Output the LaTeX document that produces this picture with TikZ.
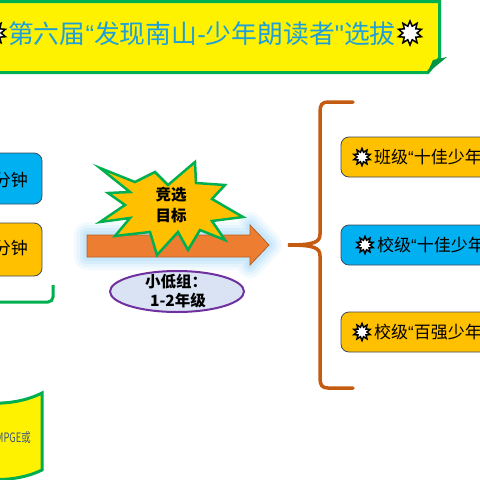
\documentclass[tikz,border=0pt]{standalone}
\usepackage{fontspec}
\usepackage{graphicx}
\setmainfont{Noto Sans CJK SC}
\newfontfamily\latinq{Liberation Sans}
\usetikzlibrary{shapes.geometric}
\definecolor{bgreen}{HTML}{00B050}
\definecolor{titleblue}{HTML}{1E9FD8}
\definecolor{boxgold}{HTML}{FFC000}
\definecolor{boxblue}{HTML}{00B0F0}
\definecolor{boxedge}{HTML}{3F4A5A}
\definecolor{arroworange}{HTML}{ED7D31}
\definecolor{bracebrown}{HTML}{C55A11}
\definecolor{ellfill}{HTML}{DAE3F3}
\definecolor{ellpurple}{HTML}{7030A0}
\definecolor{glowblue}{HTML}{9CD3F7}
\definecolor{mpgetext}{HTML}{3D5A80}
\tikzset{
  rbox/.style={draw=boxedge, line width=0.8pt, rounded corners=8pt, inner sep=0},
  icon/.style={star, star points=10, star point ratio=1.7, minimum size=17pt, inner sep=0, draw=black, line width=1.5pt, fill=white},
  txt/.style={inner sep=0, font=\fontsize{17}{17}\selectfont},
  btxt/.style={inner sep=0, font=\fontsize{15.5}{15.5}\selectfont\bfseries},
}
\begin{document}
\begin{tikzpicture}[x=1pt,y=-1pt]
\useasboundingbox (0,0) rectangle (480,480);
\clip (0,0) rectangle (480,480);
% banner
\draw[bgreen, line width=3pt, fill=yellow] (-10,1.5) -- (439.5,1.5) -- (439.5,58) -- (428,72.5) -- (-10,72.5) -- cycle;
\fill[bgreen!85!black] (427,73.5) -- (447,57) -- (433,60) -- cycle;
\node[icon, minimum size=24pt] (s0) at (-6,33) {};
\node[inner sep=0, anchor=west, text=titleblue, font=\fontsize{25.8}{26}\selectfont] (title) at (8,34) {第六届{\latinq “}发现南山{\latinq -}少年朗读者{\latinq "}选拔};
\node[icon, minimum size=24pt] (s1) at (410,33) {};
% left boxes
\node[rbox, fill=boxblue, minimum width=72pt, minimum height=51pt] (lb1) at (6,178.5) {};
\node[txt, anchor=east] (lt1) at (28,180) {分钟};
\node[rbox, fill=boxgold, minimum width=72pt, minimum height=53pt] (lb2) at (6,249.5) {};
\node[txt, anchor=east] (lt2) at (28,248) {分钟};
\coordinate (gb0) at (-10,302);
\coordinate (gb1) at (53,302);
\coordinate (gb2) at (53,285);
\draw[bgreen, line width=3pt, rounded corners=5pt] (gb0) -- (gb1) -- (gb2);
% bottom-left scroll
\draw[bgreen, line width=3pt, fill=yellow] (-10,403) .. controls (10,404) and (28,400) .. (42,393) -- (42,470) .. controls (30,476) and (10,481) .. (-10,479) -- cycle;
\node[inner sep=0, anchor=east, text=mpgetext, font=\fontsize{13}{13}\selectfont] (mp) at (31,438) {\scalebox{0.72}[1]{MPGE或}};
% arrow glow
\foreach \w/\o in {26/0.12, 20/0.15, 14/0.2, 8/0.25} {
  \draw[line width=\w pt, glowblue, opacity=\o, line join=round] (87,235) -- (250,235) -- (250,225) -- (269,245) -- (250,265) -- (250,257) -- (87,257) -- cycle;
}
\draw[fill=arroworange, draw=arroworange!75!black, line width=0.8pt] (87,235) -- (250,235) -- (250,225) -- (269,245) -- (250,265) -- (250,257) -- (87,257) -- cycle;
% starburst
\draw[bgreen, line width=2.5pt, fill=boxgold, line join=miter, miter limit=20]
 (100,168) -- (135,182) -- (155,172) -- (168,185) -- (195,162) -- (196,183) -- (225,185) -- (212,199) -- (243,217) -- (212,221) -- (225,240) -- (200,230) -- (188,250) -- (178,232) -- (157,255) -- (150,232) -- (115,236) -- (130,218) -- (100,222) -- (125,205) -- (108,193) -- (130,192) -- cycle;
\node[btxt] (g1) at (171,195) {竞选};
\node[btxt] (g2) at (171,216) {目标};
% ellipse
\node[ellipse, draw=ellpurple, line width=2pt, fill=ellfill, minimum width=134pt, minimum height=41pt] (grp) at (177,291.5) {};
\node[btxt] (e1) at (176,282) {小低组：};
\node[btxt] (e2) at (178,301) {1-2年级};
% brace
\draw[bracebrown, line width=3.5pt, line cap=round] (353,102) -- (328,102) .. controls (322,102) and (320,105) .. (320,112) -- (320,234) .. controls (320,242) and (315,245) .. (288,245) .. controls (315,245) and (320,248) .. (320,256) -- (320,378) .. controls (320,385) and (322,388) .. (328,388) -- (353,388);
% right boxes
\node[rbox, fill=boxgold, minimum width=154pt, minimum height=40pt] (rb1) at (418,157) {};
\node[icon] (i1) at (362,157) {};
\node[txt, anchor=west] (t1) at (374,157) {班级{\latinq “}十佳少年};
\node[rbox, fill=boxblue, minimum width=154pt, minimum height=40pt] (rb2) at (418,245) {};
\node[icon] (i2) at (365,245) {};
\node[txt, anchor=west] (t2) at (377,245) {校级{\latinq “}十佳少年};
\node[rbox, fill=boxgold, minimum width=154pt, minimum height=40pt] (rb3) at (418,332) {};
\node[icon] (i3) at (362,332) {};
\node[txt, anchor=west] (t3) at (374,332) {校级{\latinq “}百强少年};
\end{tikzpicture}
\end{document}
